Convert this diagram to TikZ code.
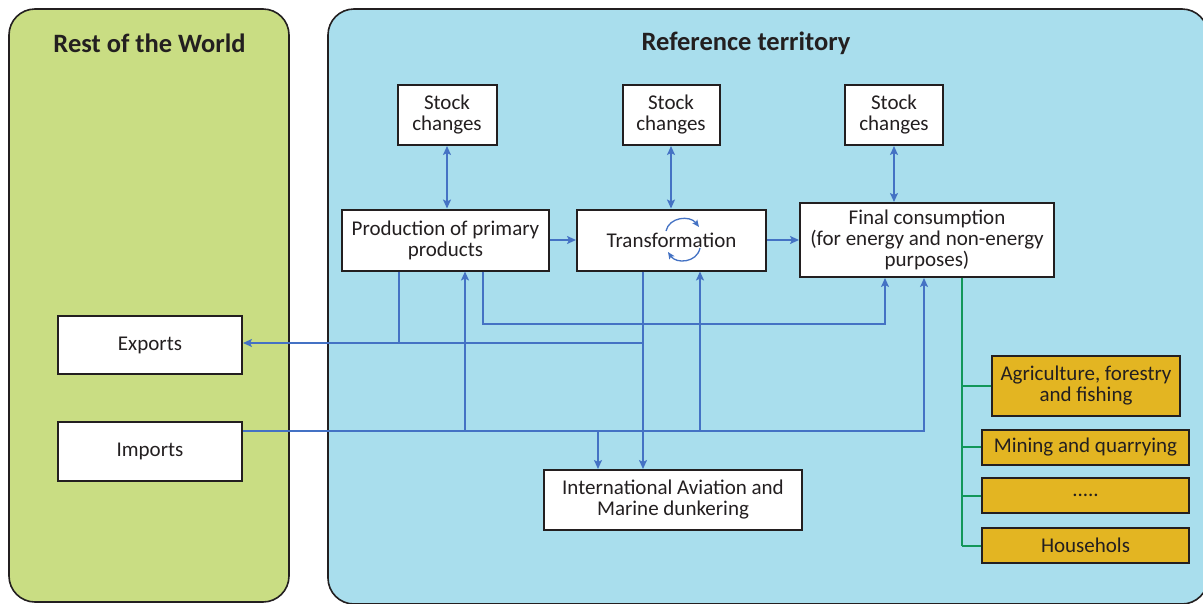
\documentclass[tikz,border=0pt]{standalone}
\usepackage{fontspec}
\setmainfont{Carlito}
\usetikzlibrary{arrows.meta}
\definecolor{txt}{HTML}{231F20}
\definecolor{rowgreen}{HTML}{C9DD83}
\definecolor{refblue}{HTML}{A9DEED}
\definecolor{flow}{HTML}{4472C4}
\definecolor{sector}{HTML}{E3B522}
\definecolor{treegreen}{HTML}{12975A}
\tikzset{
  panel/.style={draw=txt, line width=1.6pt, rounded corners=26pt},
  box/.style={draw=txt, line width=2pt, fill=white, align=center, inner sep=0pt,
    text=txt, font=\fontsize{21}{21}\selectfont},
  secbox/.style={box, fill=sector},
  title/.style={text=txt, font=\bfseries\fontsize{26.5}{27}\selectfont},
  flowline/.style={draw=flow, line width=2pt},
  arr/.style={flowline, -{Stealth[length=9pt,width=8pt,inset=2pt]}},
  dbl/.style={flowline, {Stealth[length=9pt,width=8pt,inset=2pt]}-{Stealth[length=9pt,width=8pt,inset=2pt]}},
  circarr/.style={draw=flow, line width=1.3pt, -{Stealth[length=7pt,width=6pt,inset=1.5pt]}},
  tree/.style={draw=treegreen, line width=2pt}
}
\begin{document}
\begin{tikzpicture}[x=1pt,y=-1pt]
\useasboundingbox (0,0) rectangle (1203,603);
\fill[white] (0,0) rectangle (1203,603);
% panels
\draw[panel, fill=rowgreen] (9,9) rectangle (289,602);
\draw[panel, fill=refblue] (328,9) rectangle (1208,604);
\node[title] (rowtitle) at (149.5,43) {Rest of the World};
\node[title] (reftitle) at (746,43) {Reference territory};
% boxes
\node[box, minimum width=99pt, minimum height=60pt] (stock1) at (447,115) {Stock\\changes};
\node[box, minimum width=97pt, minimum height=60pt] (stock2) at (671,115) {Stock\\changes};
\node[box, minimum width=98pt, minimum height=60pt] (stock3) at (894,115) {Stock\\changes};
\node[box, minimum width=207pt, minimum height=61pt] (prod) at (445.5,240) {Production of primary\\products};
\node[box, minimum width=189pt, minimum height=61pt] (trans) at (671.5,240) {Transformation};
\node[box, minimum width=254pt, minimum height=74pt] (final) at (927,240) {Final consumption\\(for energy and non-energy\\purposes)};
\node[box, minimum width=184pt, minimum height=58pt] (exports) at (150,345) {Exports};
\node[box, minimum width=184pt, minimum height=59pt] (imports) at (150,451.5) {Imports};
\node[box, minimum width=258pt, minimum height=60pt] (intl) at (673,500) {International Aviation and\\Marine dunkering};
\node[secbox, minimum width=188pt, minimum height=60pt] (agri) at (1086,386) {Agriculture, forestry\\and fishing};
\node[secbox, minimum width=207pt, minimum height=35pt] (mining) at (1085.5,447) {Mining and quarrying};
\node[secbox, minimum width=207pt, minimum height=35pt] (dots) at (1085.5,495.5) {.....};
\node[secbox, minimum width=207pt, minimum height=35pt] (house) at (1085.5,545.5) {Househols};
% helper coordinates
\coordinate (yImp) at (0,431);
\coordinate (yExp) at (0,343);
\coordinate (yMid) at (0,324);
\coordinate (xA) at (399,0);
\coordinate (xB) at (465,0);
\coordinate (xC) at (483,0);
\coordinate (xD) at (643,0);
\coordinate (xE) at (700,0);
\coordinate (xF) at (598,0);
\coordinate (xG) at (885,0);
\coordinate (xH) at (924,0);
\coordinate (xT) at (962,0);
% stock changes
\draw[dbl] (stock1.south) -- (stock1.south |- prod.north);
\draw[dbl] (stock2.south) -- (stock2.south |- trans.north);
\draw[dbl] (stock3.south) -- (stock3.south |- final.north);
% main chain
\draw[arr] (prod.east) -- (trans.west |- prod.east);
\draw[arr] (trans.east) -- (final.west |- trans.east);
% exports
\draw[flowline] (prod.south -| xA) -- (xA |- yExp);
\draw[arr] (xD |- yExp) -- (exports.east |- yExp);
\draw[arr] (trans.south -| xD) -- (intl.north -| xD);
% production to final
\draw[arr] (prod.south -| xC) |- (xG |- yMid) -- (final.south -| xG);
% imports
\draw[arr] (imports.east |- yImp) -| (final.south -| xH);
\draw[arr] (xB |- yImp) -- (prod.south -| xB);
\draw[arr] (xE |- yImp) -- (trans.south -| xE);
\draw[arr] (xF |- yImp) -- (intl.north -| xF);
% transformation cycle
\draw[circarr] (666,231) .. controls (669,217) and (690,215) .. (699,227);
\draw[circarr] (700,248) .. controls (697,263) and (676,264) .. (668,252);
% sectors tree
\draw[tree] (final.south -| xT) -- (xT |- house.west);
\draw[tree] (xT |- agri.west) -- (agri.west);
\draw[tree] (xT |- mining.west) -- (mining.west);
\draw[tree] (xT |- dots.west) -- (dots.west);
\draw[tree] (xT |- house.west) -- (house.west);
\end{tikzpicture}
\end{document}
